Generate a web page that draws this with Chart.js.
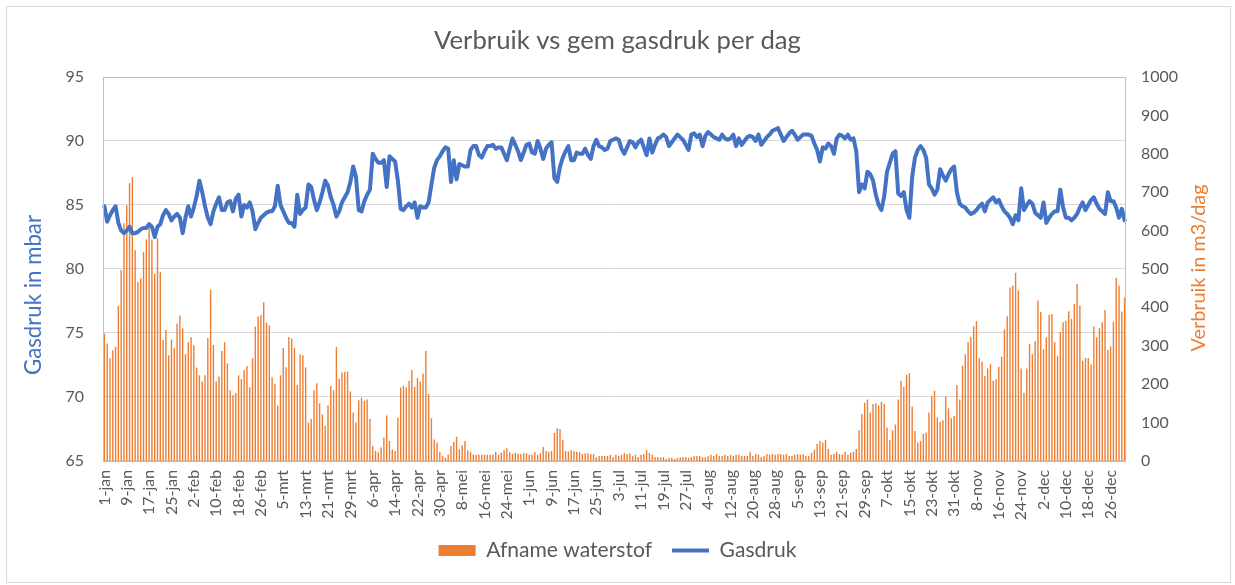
<!DOCTYPE html>
<html>
<head>
<meta charset="utf-8">
<script src="https://cdn.jsdelivr.net/npm/chart.js@4.4.1/dist/chart.umd.min.js"></script>
<style>
html,body{margin:0;padding:0;background:#ffffff;}
#wrap{position:relative;width:1235px;height:585px;}
</style>
</head>
<body>
<div id="wrap"><canvas id="c" width="1235" height="585"></canvas></div>
<script>
// ---- categories (leap year, one label per day) ----
const monthNames = ['jan','feb','mrt','apr','mei','jun','jul','aug','sep','okt','nov','dec'];
const monthDays  = [31,29,31,30,31,30,31,31,30,31,30,31];
const dayLabels = [];
monthNames.forEach((m, mi) => { for (let d = 1; d <= monthDays[mi]; d++) dayLabels.push(d + '-' + m); });

// ---- series: Afname waterstof (m3/dag), right axis ----
const afname = [
332,306,267,288,297,404,497,619,666,723,
739,549,466,475,544,577,610,577,487,580,
493,315,341,275,316,295,358,379,345,278,
309,323,301,243,223,207,223,320,446,302,
207,220,286,309,254,184,171,177,223,213,
236,247,192,268,350,376,380,413,360,353,
218,201,144,223,294,244,323,319,294,198,
277,275,244,100,109,184,202,150,121,91,
145,195,184,297,214,230,232,233,181,126,
100,158,165,157,160,109,39,26,22,35,
61,118,52,30,26,113,191,196,191,209,
237,193,216,207,228,286,174,111,56,48,
24,13,8,17,39,50,63,30,41,52,
28,24,17,16,16,16,16,16,16,16,
23,16,21,28,33,23,18,21,18,18,
20,20,16,17,23,16,20,36,26,23,
26,73,85,83,55,26,24,28,26,24,
23,18,20,20,18,18,10,13,13,13,
13,16,10,16,13,16,20,18,20,13,
16,10,16,18,28,21,16,10,10,9,
10,5,8,8,5,8,9,10,10,8,
10,13,13,13,10,10,13,16,13,18,
13,13,16,13,16,13,16,16,13,13,
13,24,13,18,16,10,13,18,16,18,
16,18,18,16,18,13,13,16,18,16,
18,13,13,21,29,44,52,48,55,31,
16,18,24,18,16,24,16,21,24,31,
80,122,152,160,126,148,150,144,154,148,
87,54,80,95,160,209,193,224,228,142,
78,48,52,71,74,126,170,183,113,102,
106,168,137,111,117,198,160,248,278,309,
323,351,364,268,259,221,241,253,209,213,
245,271,343,377,452,457,490,444,241,177,
241,305,278,312,418,388,291,322,381,383,
309,273,336,361,365,390,370,409,461,405,
261,268,268,251,350,322,346,361,393,289,
298,363,477,457,389,426
];

// ---- series: Gasdruk (mbar), left axis ----
const gasdruk = [
84.9,83.7,84.2,84.6,84.9,83.6,83.0,82.8,83.0,83.3,
82.8,82.8,82.9,83.1,83.2,83.2,83.5,83.3,82.5,83.3,
83.5,84.2,84.6,84.3,83.8,84.1,84.3,84.0,82.8,84.0,
84.9,84.1,84.8,85.7,86.9,86.0,84.9,84.0,83.5,84.5,
85.1,85.6,84.6,84.6,85.2,85.3,84.5,85.5,85.8,84.1,
85.0,84.8,85.2,84.5,83.1,83.6,84.0,84.2,84.4,84.5,
84.5,84.9,86.5,85.0,84.5,84.0,83.6,83.6,83.3,85.8,
84.3,84.6,84.8,86.6,86.4,85.4,84.6,85.2,86.0,86.9,
86.5,85.6,85.0,84.1,84.5,85.2,85.6,86.0,86.8,88.0,
87.2,84.6,84.5,85.3,85.8,86.2,89.0,88.6,88.3,88.3,
88.5,86.4,88.8,88.6,88.4,86.9,84.7,84.6,84.9,85.1,
84.8,85.2,84.0,84.9,84.8,84.8,85.2,86.6,87.9,88.5,
88.8,89.2,89.5,89.4,86.8,88.5,87.0,88.2,88.1,88.0,
88.0,89.3,89.6,89.6,88.9,88.7,89.2,89.6,89.6,89.7,
89.4,89.5,89.5,89.0,88.5,89.4,90.2,89.7,89.2,88.5,
89.1,89.7,89.8,89.1,89.0,90.0,89.4,88.6,89.4,89.7,
89.9,87.1,86.8,88.0,88.7,89.2,89.6,88.5,88.5,89.1,
89.0,89.0,89.4,88.9,88.6,89.6,90.1,89.6,89.5,89.3,
89.4,90.0,90.1,90.2,90.1,89.4,89.0,89.5,90.0,89.9,
89.5,89.9,90.1,89.5,88.9,90.2,89.1,89.7,90.2,90.3,
90.5,90.3,89.6,89.9,90.2,90.5,90.3,90.1,89.7,89.3,
90.5,90.6,90.3,90.5,89.6,90.4,90.7,90.5,90.3,90.2,
90.1,90.5,90.2,90.1,90.2,90.5,89.6,90.2,89.7,90.0,
90.3,90.4,90.3,90.0,90.5,89.7,90.0,90.3,90.5,90.8,
90.9,91.0,90.5,90.0,90.3,90.6,90.8,90.5,90.1,90.3,
90.5,90.5,90.5,90.4,89.8,89.3,88.4,89.5,89.4,89.8,
89.6,89.0,90.2,90.5,90.4,90.2,90.5,90.1,90.2,89.2,
86.0,86.6,86.3,87.6,87.4,86.9,85.8,85.0,84.6,85.7,
87.6,88.3,89.0,89.2,85.9,85.7,86.0,84.6,84.0,87.2,
88.7,89.3,89.6,89.3,88.7,86.6,86.3,85.8,86.2,87.8,
87.3,86.9,87.4,87.8,88.0,86.0,85.1,84.9,84.8,84.5,
84.3,84.4,84.6,84.9,85.1,84.5,85.2,85.4,85.6,85.2,
85.4,84.9,84.5,84.3,84.0,83.5,84.2,83.8,86.3,84.6,
85.0,85.3,85.1,84.4,84.2,84.0,85.2,83.6,84.0,84.3,
84.5,84.5,86.2,84.8,84.0,84.0,83.8,84.0,84.3,84.8,
85.2,84.6,85.0,85.4,85.6,85.1,84.7,84.5,84.3,86.0,
85.3,85.3,84.8,84.0,84.7,83.8
];

// ---- texts ----
const chartTitle = 'Verbruik vs gem gasdruk per dag';
const seriesNames = ['Afname waterstof', 'Gasdruk'];
const leftAxisTitle = 'Gasdruk in mbar';
const rightAxisTitle = 'Verbruik in m3/dag';
const labelEvery = 8;

// ---- styling ----
const FAMILY = 'Lato, "Open Sans", sans-serif';
const GREY = '#595959';
const ORANGE = '#ED7D31';
const BLUE = '#4472C4';
const mctx = document.createElement('canvas').getContext('2d');
function fitSize(text, target) {
  mctx.font = '100px ' + FAMILY;
  return 100 * target / mctx.measureText(text).width;
}
const titleSize  = fitSize(chartTitle, 367);
const yTickSize  = fitSize('1000', 37);
const xTickSize  = fitSize('10-feb', 47);
const legendSize = fitSize(seriesNames[0], 166);
const lTitleSize = fitSize(leftAxisTitle, 160);
const rTitleSize = fitSize(rightAxisTitle, 167);

const PLOT = {left: 103, right: 1126, top: 77, bottom: 460};

const framePlugin = {
  id: 'frame',
  afterDatasetsDraw(chart) {
    const ctx = chart.ctx, a = chart.chartArea;
    ctx.save();
    ctx.strokeStyle = '#BFBFBF';
    ctx.lineWidth = 1;
    ctx.strokeRect(Math.round(a.left) + 0.5, Math.round(a.top) + 0.5,
                   Math.round(a.right - a.left) - 1, Math.round(a.bottom - a.top));
    ctx.restore();
  },
  afterDraw(chart) {
    const ctx = chart.ctx;
    ctx.save();
    ctx.strokeStyle = '#D9D9D9';
    ctx.lineWidth = 1;
    ctx.strokeRect(6.5, 6.5, 1224, 576);
    ctx.textAlign = 'center';
    ctx.textBaseline = 'middle';
    ctx.fillStyle = BLUE;
    ctx.font = lTitleSize + 'px ' + FAMILY;
    ctx.translate(34, 295);
    ctx.rotate(-Math.PI / 2);
    ctx.fillText(leftAxisTitle, 0, 0);
    ctx.restore();
    ctx.save();
    ctx.textAlign = 'center';
    ctx.textBaseline = 'middle';
    ctx.fillStyle = ORANGE;
    ctx.font = rTitleSize + 'px ' + FAMILY;
    ctx.translate(1199, 268);
    ctx.rotate(-Math.PI / 2);
    ctx.fillText(rightAxisTitle, 0, 0);
    ctx.restore();
  }
};

const legendPad = 20;
const xAxisHeight = 59;

new Chart(document.getElementById('c'), {
  data: {
    labels: dayLabels,
    datasets: [
      {
        type: 'bar', label: seriesNames[0], data: afname, yAxisID: 'y1',
        backgroundColor: ORANGE, borderWidth: 0,
        barPercentage: 0.5, categoryPercentage: 1.0, order: 2
      },
      {
        type: 'line', label: seriesNames[1], data: gasdruk, yAxisID: 'y',
        borderColor: BLUE, backgroundColor: BLUE, borderWidth: 4,
        pointRadius: 0, tension: 0, borderJoinStyle: 'round', borderCapStyle: 'round',
        fill: false, order: 1
      }
    ]
  },
  options: {
    responsive: false,
    animation: false,
    devicePixelRatio: 1,
    layout: {padding: {left: 0, right: 0, top: 0, bottom: 14}},
    plugins: {
      tooltip: {enabled: false},
      title: {
        display: true, text: chartTitle, color: GREY,
        font: {family: FAMILY, size: titleSize, weight: 'normal', lineHeight: 1.2},
        padding: {top: 25, bottom: 77 - 25 - titleSize * 1.2}
      },
      legend: {
        position: 'bottom',
        labels: {
          usePointStyle: true, pointStyleWidth: 37, boxHeight: 11,
          color: GREY, padding: legendPad,
          font: {family: FAMILY, size: legendSize},
          generateLabels() {
            return [
              {text: seriesNames[0], fillStyle: ORANGE, strokeStyle: ORANGE, lineWidth: 0,
               pointStyle: 'rect', datasetIndex: 0, hidden: false, fontColor: GREY},
              {text: seriesNames[1], fillStyle: BLUE, strokeStyle: BLUE, lineWidth: 4,
               pointStyle: 'line', datasetIndex: 1, hidden: false, fontColor: GREY}
            ];
          }
        }
      }
    },
    scales: {
      x: {
        grid: {display: false, drawTicks: false},
        border: {display: false},
        ticks: {
          autoSkip: false, minRotation: 90, maxRotation: 90, padding: 9,
          color: GREY, font: {family: FAMILY, size: xTickSize},
          callback(v, i) { return i % labelEvery === 0 ? this.getLabelForValue(v) : null; }
        },
        afterFit(s) { s.height = xAxisHeight; }
      },
      y: {
        position: 'left', min: 65, max: 95,
        grid: {color: '#D9D9D9', drawTicks: false},
        border: {display: false},
        ticks: {stepSize: 5, padding: 19, color: GREY, font: {family: FAMILY, size: yTickSize},
                callback: v => String(v)},
        afterFit(s) { s.width = PLOT.left; }
      },
      y1: {
        position: 'right', min: 0, max: 1000,
        grid: {display: false, drawTicks: false},
        border: {display: false},
        ticks: {stepSize: 100, padding: 15, color: GREY, font: {family: FAMILY, size: yTickSize},
                callback: v => String(v)},
        afterFit(s) { s.width = 1235 - PLOT.right; }
      }
    }
  },
  plugins: [framePlugin]
});
</script>
</body>
</html>
